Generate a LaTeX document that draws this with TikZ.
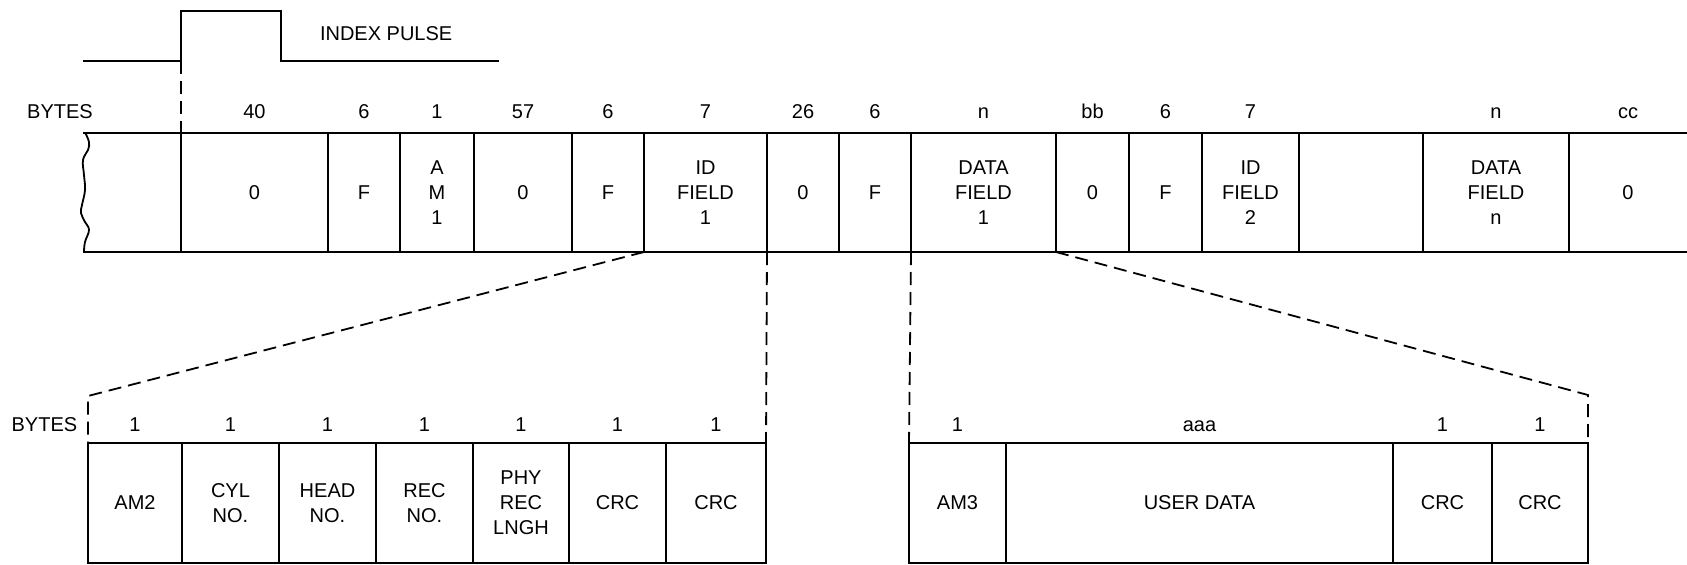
\documentclass[tikz,border=0pt]{standalone}
\usepackage{fontspec}
\setmainfont{Liberation Sans}
\newcommand\mycell[7]{\node[cellsty,#1,minimum width={#4-#3},minimum height={#6-#5}] (#2) at ({(#3+#4)/2},{(#5+#6)/2}) {#7};}
\begin{document}
\begin{tikzpicture}[x=1pt,y=-1pt,line width=2pt,
  every node/.style={font=\fontsize{20}{25}\selectfont,inner sep=0pt,outer sep=0pt},
  cellsty/.style={draw,align=center},
  nocell/.style={draw=none},
  lbl/.style={anchor=base},
  dsh/.style={line width=1.8pt,dash pattern=on 13pt off 7pt}]
\useasboundingbox (0,0) rectangle (1687,565);
% index pulse
\coordinate (p0) at (83,61);
\coordinate (p1) at (181,61);
\coordinate (p2) at (181,11);
\coordinate (p3) at (281,11);
\coordinate (p4) at (281,61);
\coordinate (p5) at (499,61);
\draw (p0) -- (p1) -- (p2) -- (p3) -- (p4) -- (p5);
\node[anchor=base west] (ip) at (320,40.7) {INDEX PULSE};
% top row
\def\ta{132.5}\def\tb{252}
\mycell{}{z0}{181}{328}{\ta}{\tb}{0}
\mycell{}{f1}{328}{400}{\ta}{\tb}{F}
\mycell{}{am1}{400}{474}{\ta}{\tb}{A\\M\\1}
\mycell{}{z1}{474}{572}{\ta}{\tb}{0}
\mycell{}{f2}{572}{644}{\ta}{\tb}{F}
\mycell{}{id1}{644}{767}{\ta}{\tb}{ID\\FIELD\\1}
\mycell{}{z2}{767}{839}{\ta}{\tb}{0}
\mycell{}{f3}{839}{911}{\ta}{\tb}{F}
\mycell{}{df1}{911}{1056}{\ta}{\tb}{DATA\\FIELD\\1}
\mycell{}{z3}{1056}{1129}{\ta}{\tb}{0}
\mycell{}{f4}{1129}{1202}{\ta}{\tb}{F}
\mycell{}{id2}{1202}{1299}{\ta}{\tb}{ID\\FIELD\\2}
\mycell{}{gp}{1299}{1423}{\ta}{\tb}{}
\mycell{}{dfn}{1423}{1569}{\ta}{\tb}{DATA\\FIELD\\n}
\mycell{nocell}{zn}{1569}{1687}{\ta}{\tb}{0}
\draw (zn.north west) -- (zn.north east);
\draw (zn.south west) -- (zn.south east);
% left torn edge
\draw (83,\ta) -- (z0.north west);
\draw (83,\tb) -- (z0.south west);
\draw[line width=1.8pt] plot[smooth,tension=0.7] coordinates {(85,\ta) (89,142) (88,150) (83,160) (84,175) (85,190) (82,205) (81,213) (85,222) (89,230) (85,242) (84,\tb)};
% top labels
\node[lbl] (bt) at (60,118.5) {BYTES};
\foreach \c/\t in {z0/40,f1/6,am1/1,z1/57,f2/6,id1/7,z2/26,f3/6,df1/n,z3/bb,f4/6,id2/7,dfn/n,zn/cc}
  \node[lbl] (l\c) at ([yshift=14pt]\c.north) {\t};
% lower left
\def\ba{443}\def\bb{563}
\mycell{}{am2}{88}{182}{\ba}{\bb}{AM2}
\mycell{}{cyl}{182}{279}{\ba}{\bb}{CYL\\NO.}
\mycell{}{head}{279}{376}{\ba}{\bb}{HEAD\\NO.}
\mycell{}{rec}{376}{473}{\ba}{\bb}{REC\\NO.}
\mycell{}{phy}{473}{569}{\ba}{\bb}{PHY\\REC\\LNGH}
\mycell{}{crca}{569}{666}{\ba}{\bb}{CRC}
\mycell{}{crcb}{666}{766}{\ba}{\bb}{CRC}
% lower right
\mycell{}{am3}{909}{1006}{\ba}{\bb}{AM3}
\mycell{}{ud}{1006}{1393}{\ba}{\bb}{USER DATA}
\mycell{}{crcc}{1393}{1492}{\ba}{\bb}{CRC}
\mycell{}{crcd}{1492}{1588}{\ba}{\bb}{CRC}
\node[lbl] (bb2) at (44.4,431) {BYTES};
\foreach \c/\t in {am2/1,cyl/1,head/1,rec/1,phy/1,crca/1,crcb/1,am3/1,ud/aaa,crcc/1,crcd/1}
  \node[lbl] (l\c) at ([yshift=12pt]\c.north) {\t};
% dashed expansion lines
\coordinate (cl) at (88,396);
\coordinate (cr) at (1588,395);
\draw[dsh] (p1) -- (z0.north west);
\draw[dsh] (f2.south east) -- (cl) -- (am2.north west);
\draw[dsh] (id1.south east) -- (crcb.north east);
\draw[dsh] (f3.south east) -- (am3.north west);
\draw[dsh] (z3.south west) -- (cr) -- (crcd.north east);
\end{tikzpicture}
\end{document}
